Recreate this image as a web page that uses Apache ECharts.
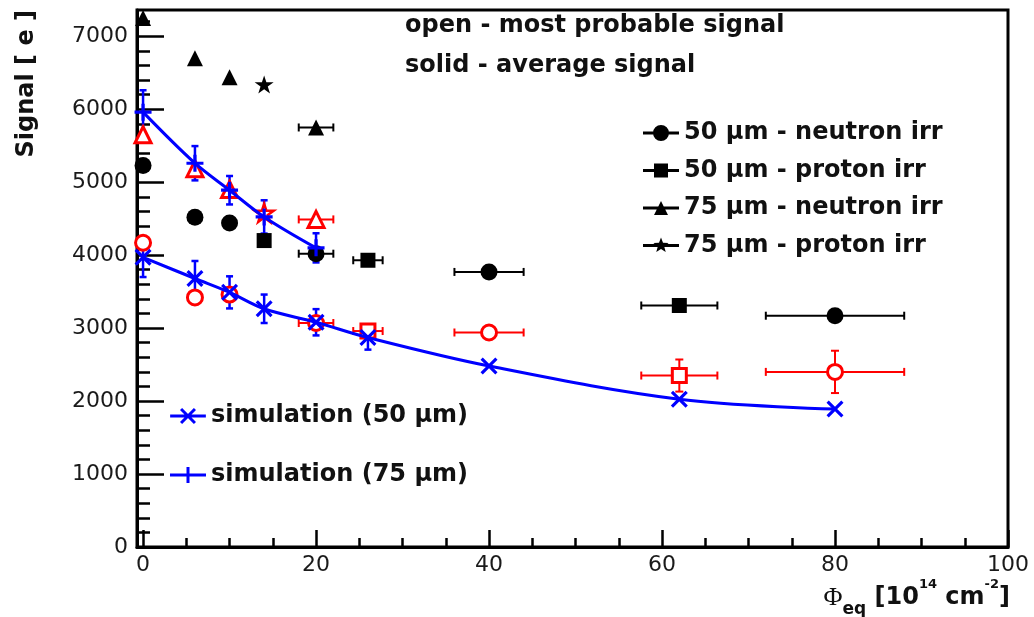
<!DOCTYPE html>
<html>
<head>
<meta charset="utf-8">
<script src="https://cdn.jsdelivr.net/npm/echarts@6/dist/echarts.min.js"></script>
<style>
  html, body { margin: 0; padding: 0; background: #fff; }
  #chart { width: 1034px; height: 617px; }
</style>
</head>
<body>
<div id="chart"></div>
<script>
// Fluence axis ticks and signal axis ticks
const phiMajor = [0, 20, 40, 60, 80, 100];
const phiMinor = [5, 10, 15, 25, 30, 35, 45, 50, 55, 65, 70, 75, 85, 90, 95];
const sigMajor = [0, 1000, 2000, 3000, 4000, 5000, 6000, 7000];
const sigMinor = [200, 400, 600, 800, 1200, 1400, 1600, 1800, 2200, 2400, 2600, 2800,
  3200, 3400, 3600, 3800, 4200, 4400, 4600, 4800, 5200, 5400, 5600, 5800,
  6200, 6400, 6600, 6800, 7200];

// 50 um, neutron irradiated
const phi50n = [0, 6, 10, 20, 40, 80];
const phiErr50n = [0, 0, 0, 2, 4, 8];
const avg50n = [5230, 4520, 4440, 4020, 3770, 3170];
const mpv50n = [4170, 3420, 3460, 3070, 2940, 2400];
const mpvErr50n = [0, 0, 0, 0, 0, 290];

// 50 um, proton irradiated
const phi50p = [14, 26, 62];
const phiErr50p = [0, 1.7, 4.4];
const avg50p = [4200, 3930, 3310];
const phiMpv50p = [26, 62];
const phiErrMpv50p = [1.7, 4.4];
const mpv50p = [2960, 2350];
const mpvErr50p = [0, 220];

// 75 um, neutron irradiated
const phi75n = [0, 6, 10, 20];
const phiErr75n = [0, 0, 0, 2];
const avg75n = [7250, 6700, 6440, 5750];
const mpv75n = [5650, 5185, 4900, 4490];

// 75 um, proton irradiated
const phi75p = [14];
const avg75p = [6340];
const mpv75p = [4580];

// simulation
const phiSim50 = [0, 6, 10, 14, 20, 26, 40, 62, 80];
const sim50 = [3970, 3680, 3490, 3265, 3080, 2870, 2480, 2025, 1890];
const simErr50 = [270, 240, 220, 195, 180, 165, 0, 0, 0];
const phiSim75 = [0, 6, 10, 14, 20];
const sim75 = [5960, 5260, 4890, 4524, 4100];
const simErr75 = [300, 235, 195, 228, 200];

const FONT = 'DejaVu Sans';
const BLUE = '#0000ff';
const RED = '#ff0000';
const BLACK = '#000000';

const STAR = 'path://M50,0L61.2,34.5L97.6,34.5L68.2,55.9L79.4,90.5L50,69.1L20.6,90.5L31.8,55.9L2.4,34.5L38.8,34.5Z';
const XMARK = 'path://M2.06,-0.06L16.06,13.94L13.94,16.06L-0.06,2.06Z M13.94,-0.06L16.06,2.06L2.06,16.06L-0.06,13.94Z';
const PLUS = 'path://M6.5,0h3v16h-3z M0,6.5h16v3h-16z';

// legend icons: marker drawn over a short line (36 x 16 box)
const CORNERS = ' M0,0h0.01v0.01h-0.01z M36,16h-0.01v-0.01h0.01z';
const LINE = 'M0,6.5h36v3h-36z';
const ICON_CIRCLE = 'path://' + LINE + ' M26,8a8,8 0 1,1 -16,0a8,8 0 1,1 16,0z' + CORNERS;
const ICON_SQUARE = 'path://' + LINE + ' M11,1h14v14h-14z' + CORNERS;
const ICON_TRI = 'path://' + LINE + ' M18,1L25,15L11,15z' + CORNERS;
const ICON_STAR = 'path://' + LINE +
  ' M18,0L20,5.25L25.61,5.53L21.23,9.05L22.7,14.47L18,11.4L13.3,14.47L14.77,9.05L10.39,5.53L16,5.25z' + CORNERS;
const ICON_X = 'path://' + LINE +
  ' M12.06,-0.06L26.06,13.94L23.94,16.06L9.94,2.06Z M23.94,-0.06L26.06,2.06L12.06,16.06L9.94,13.94Z' + CORNERS;
const ICON_PLUS = 'path://' + LINE + ' M16.5,0h3v16h-3z' + CORNERS;

const zip = (xs, ys) => xs.map((x, i) => [x, ys[i]]);

// error bars with small end caps
function errorSeries(name, xs, ys, xe, ye, color, width, cap) {
  return {
    type: 'custom',
    name: name,
    data: xs.map((x, i) => [x, ys[i], xe ? xe[i] : 0, ye ? ye[i] : 0]),
    encode: { x: 0, y: 1 },
    clip: false,
    silent: true,
    renderItem: function (params, api) {
      const x = api.value(0), y = api.value(1);
      const ex = api.value(2), ey = api.value(3);
      const st = { stroke: color, lineWidth: width, fill: null };
      const kids = [];
      if (ex > 0) {
        const l = api.coord([x - ex, y]), r = api.coord([x + ex, y]);
        kids.push({ type: 'line', shape: { x1: l[0], y1: l[1], x2: r[0], y2: r[1] }, style: st });
        kids.push({ type: 'line', shape: { x1: l[0], y1: l[1] - cap, x2: l[0], y2: l[1] + cap }, style: st });
        kids.push({ type: 'line', shape: { x1: r[0], y1: r[1] - cap, x2: r[0], y2: r[1] + cap }, style: st });
      }
      if (ey > 0) {
        const t = api.coord([x, y + ey]), b = api.coord([x, y - ey]);
        kids.push({ type: 'line', shape: { x1: t[0], y1: t[1], x2: b[0], y2: b[1] }, style: st });
        kids.push({ type: 'line', shape: { x1: t[0] - cap, y1: t[1], x2: t[0] + cap, y2: t[1] }, style: st });
        kids.push({ type: 'line', shape: { x1: b[0] - cap, y1: b[1], x2: b[0] + cap, y2: b[1] }, style: st });
      }
      return { type: 'group', children: kids };
    }
  };
}

function solid(name, xs, ys, symbol, size) {
  return {
    type: 'scatter', name: name, data: zip(xs, ys), symbol: symbol, symbolSize: size,
    symbolKeepAspect: true, silent: true,
    itemStyle: { color: BLACK, opacity: 1 }
  };
}

function open(name, xs, ys, symbol, size, bw) {
  return {
    type: 'scatter', name: name, data: zip(xs, ys), symbol: symbol, symbolSize: size,
    symbolKeepAspect: true, silent: true,
    itemStyle: { color: '#ffffff', borderColor: RED, borderWidth: bw, opacity: 1 }
  };
}

const N50 = '50 μm - neutron irr';
const P50 = '50 μm - proton irr';
const N75 = '75 μm - neutron irr';
const P75 = '75 μm - proton irr';
const S50 = 'simulation (50 μm)';
const S75 = 'simulation (75 μm)';

const legendText = { fontFamily: FONT, fontWeight: 'bold', fontSize: 24, lineHeight: 24, color: '#111' };

const axisCommon = {
  type: 'value',
  splitLine: { show: false },
  axisLine: { show: true, onZero: false, lineStyle: { color: BLACK, width: 3 } }
};

const plain = (v) => String(v);

const option = {
  animation: false,
  backgroundColor: '#ffffff',
  grid: { left: 137, right: 26, top: 10, bottom: 70, show: true, borderColor: BLACK, borderWidth: 3, backgroundColor: 'transparent' },
  xAxis: [
    Object.assign({}, axisCommon, {
      min: -0.7, max: 100, position: 'bottom',
      axisTick: { show: true, inside: true, length: 17, lineStyle: { color: BLACK, width: 2.5 }, customValues: phiMajor },
      axisLabel: { customValues: phiMajor, formatter: plain, fontFamily: FONT, fontSize: 22, color: '#1a1a1a', margin: 7 }
    }),
    Object.assign({}, axisCommon, {
      min: -0.7, max: 100, position: 'bottom', offset: 0,
      axisLine: { show: false, onZero: false },
      axisTick: { show: true, inside: true, length: 9, lineStyle: { color: BLACK, width: 2.5 }, customValues: phiMinor },
      axisLabel: { show: false }
    })
  ],
  yAxis: [
    Object.assign({}, axisCommon, {
      min: 0, max: 7360, position: 'left',
      axisTick: { show: true, inside: true, length: 27, lineStyle: { color: BLACK, width: 2.5 }, customValues: sigMajor },
      axisLabel: { customValues: sigMajor, formatter: plain, fontFamily: FONT, fontSize: 22, color: '#1a1a1a', margin: 9 }
    }),
    Object.assign({}, axisCommon, {
      min: 0, max: 7360, position: 'left', offset: 0,
      axisLine: { show: false, onZero: false },
      axisTick: { show: true, inside: true, length: 13, lineStyle: { color: BLACK, width: 2.5 }, customValues: sigMinor },
      axisLabel: { show: false }
    })
  ],
  legend: [
    {
      orient: 'vertical', left: 643, top: 121, padding: 0,
      itemWidth: 36, itemHeight: 16, itemGap: 13.5, selectedMode: false,
      textStyle: legendText,
      data: [
        { name: N50, icon: ICON_CIRCLE },
        { name: P50, icon: ICON_SQUARE },
        { name: N75, icon: ICON_TRI },
        { name: P75, icon: ICON_STAR }
      ]
    },
    {
      orient: 'vertical', left: 170, top: 404, padding: 0,
      itemWidth: 36, itemHeight: 16, itemGap: 35, selectedMode: false,
      textStyle: legendText,
      data: [
        { name: S50, icon: ICON_X },
        { name: S75, icon: ICON_PLUS }
      ]
    }
  ],
  graphic: [
    { type: 'text', x: 405, y: 26, style: { text: 'open - most probable signal', fontFamily: FONT, fontWeight: 'bold', fontSize: 24, fill: '#111', verticalAlign: 'middle' } },
    { type: 'text', x: 405, y: 66, style: { text: 'solid - average signal', fontFamily: FONT, fontWeight: 'bold', fontSize: 24, fill: '#111', verticalAlign: 'middle' } },
    { type: 'text', x: 27, y: 10, rotation: Math.PI / 2,
      style: { text: 'Signal [ e ]', fontFamily: FONT, fontWeight: 'bold', fontSize: 24, fill: '#111', align: 'right', verticalAlign: 'middle' } },
    { type: 'text', x: 1010, y: 578,
      style: {
        text: '{phi|Φ}{sub|eq}{t| [10}{sup|14}{t| cm}{sup|-2}{t|]}',
        align: 'right', verticalAlign: 'top', fill: '#111',
        rich: {
          phi: { fontFamily: 'Liberation Serif', fontSize: 26, lineHeight: 40, verticalAlign: 'middle', fill: '#111' },
          t: { fontFamily: FONT, fontWeight: 'bold', fontSize: 24, lineHeight: 40, verticalAlign: 'middle', fill: '#111' },
          sup: { fontFamily: FONT, fontWeight: 'bold', fontSize: 13, lineHeight: 10, verticalAlign: 'top', fill: '#111' },
          sub: { fontFamily: FONT, fontWeight: 'bold', fontSize: 17, lineHeight: 18, verticalAlign: 'bottom', fill: '#111' }
        }
      }
    }
  ],
  series: [
    // average signal (solid, black)
    errorSeries('err avg 50n', phi50n, avg50n, phiErr50n, null, BLACK, 2, 4),
    errorSeries('err avg 50p', phi50p, avg50p, phiErr50p, null, BLACK, 2, 4),
    errorSeries('err avg 75n', phi75n, avg75n, phiErr75n, null, BLACK, 2, 4),
    solid(N50, phi50n, avg50n, 'circle', 17),
    solid(P50, phi50p, avg50p, 'rect', 15),
    solid(N75, phi75n, avg75n, 'triangle', 16),
    solid(P75, phi75p, avg75p, STAR, 19),
    // most probable signal (open, red)
    errorSeries('err mpv 50n', phi50n, mpv50n, phiErr50n, mpvErr50n, RED, 2, 4),
    errorSeries('err mpv 50p', phiMpv50p, mpv50p, phiErrMpv50p, mpvErr50p, RED, 2, 4),
    errorSeries('err mpv 75n', phi75n, mpv75n, phiErr75n, null, RED, 2, 4),
    open('mpv 50n', phi50n, mpv50n, 'circle', 15, 3),
    open('mpv 50p', phiMpv50p, mpv50p, 'rect', 14, 3),
    open('mpv 75n', phi75n, mpv75n, 'triangle', 16, 3),
    open('mpv 75p', phi75p, mpv75p, STAR, 19, 2.5),
    // simulation (blue)
    {
      type: 'line', name: 'curve 50', data: zip(phiSim50, sim50), smooth: 0.35,
      symbol: 'none', silent: true, lineStyle: { color: BLUE, width: 3 }, itemStyle: { color: BLUE }
    },
    {
      type: 'line', name: 'curve 75', data: zip(phiSim75, sim75), smooth: 0.35,
      symbol: 'none', silent: true, lineStyle: { color: BLUE, width: 3 }, itemStyle: { color: BLUE }
    },
    errorSeries('err sim 50', phiSim50, sim50, null, simErr50, BLUE, 2.5, 3.5),
    errorSeries('err sim 75', phiSim75, sim75, null, simErr75, BLUE, 2.5, 3.5),
    {
      type: 'scatter', name: S50, data: zip(phiSim50, sim50), symbol: XMARK, symbolSize: 17,
      silent: true, itemStyle: { color: BLUE, opacity: 1 }
    },
    {
      type: 'scatter', name: S75, data: zip(phiSim75, sim75), symbol: PLUS, symbolSize: 17,
      silent: true, itemStyle: { color: BLUE, opacity: 1 }
    }
  ]
};

const chart = echarts.init(document.getElementById('chart'), null, { renderer: 'canvas' });
chart.setOption(option);
</script>
</body>
</html>
